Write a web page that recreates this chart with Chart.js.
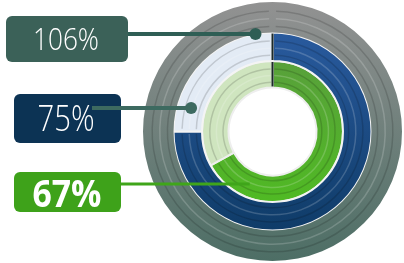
<!DOCTYPE html>
<html>
<head>
<meta charset="utf-8">
<script src="https://cdn.jsdelivr.net/npm/chart.js@4.4.1/dist/chart.umd.min.js"></script>
<style>
  html, body { margin:0; padding:0; background:#fff; }
  #wrap { width:404px; height:263px; position:relative; }
</style>
</head>
<body>
<div id="wrap"><canvas id="rings"></canvas></div>
<script>
// ring data, outer to inner
const ringLabels = ['106%', '75%', '67%'];
const ringValues = [106, 75, 67];
const ringRest = [0, 25, 33];

const boxColors = ['#3b6158', '#0c3354', '#3ea21a'];
const lineColors = ['#2f5e55', '#3d6a60', '#3fa51a'];

function vGrad(chart, top, bottom) {
  const a = chart.chartArea;
  if (!a) return top;
  const g = chart.ctx.createLinearGradient(0, a.top, 0, a.bottom);
  g.addColorStop(0, top);
  g.addColorStop(1, bottom);
  return g;
}

// little grooves inside every arc, to get the embossed look
const grooves = {
  id: 'grooves',
  afterDatasetsDraw(chart) {
    const ctx = chart.ctx;
    chart.data.datasets.forEach((ds, i) => {
      chart.getDatasetMeta(i).data.forEach((arc, j) => {
        const p = arc.getProps(['x', 'y', 'startAngle', 'endAngle', 'innerRadius', 'outerRadius']);
        if (p.endAngle - p.startAngle < 0.01) return;
        const w = p.outerRadius - p.innerRadius;
        ctx.save();
        [0.2, 0.45, 0.7].forEach((f, k) => {
          ctx.beginPath();
          ctx.arc(p.x, p.y, p.innerRadius + w * f, p.startAngle + 0.03, p.endAngle - 0.03);
          ctx.strokeStyle = k % 2 ? 'rgba(255,255,255,0.18)' : 'rgba(0,0,0,0.15)';
          ctx.lineWidth = 1.5;
          ctx.stroke();
        });
        // dark seam where the value arc starts
        if (i > 0 && j === 0) {
          const c = Math.cos(p.startAngle), s = Math.sin(p.startAngle);
          ctx.beginPath();
          ctx.moveTo(p.x + c * (p.innerRadius + 1), p.y + s * (p.innerRadius + 1));
          ctx.lineTo(p.x + c * (p.outerRadius - 1), p.y + s * (p.outerRadius - 1));
          ctx.strokeStyle = '#1c2a2a';
          ctx.lineWidth = 2;
          ctx.stroke();
        }
        ctx.restore();
      });
    });
  }
};

// label boxes and leader lines
const callouts = {
  id: 'callouts',
  afterDraw(chart) {
    const ctx = chart.ctx;
    const boxes = [
      {x: 6, y: 16, w: 122, h: 46, tx: 66, ty: 50, size: 32, weight: '300', fit: 66, ly: 34, lx: 128},
      {x: 14, y: 94, w: 107, h: 49, tx: 66, ty: 131, size: 37, weight: '300', fit: 57, ly: 108, lx: 92},
      {x: 14, y: 172, w: 107, h: 40, tx: 67, ty: 207, size: 37, weight: 'bold', fit: 69, ly: 184, lx: 121}
    ];
    boxes.forEach((b, i) => {
      ctx.save();
      ctx.fillStyle = boxColors[i];
      ctx.beginPath();
      ctx.roundRect(b.x, b.y, b.w, b.h, 6);
      ctx.fill();
      ctx.fillStyle = '#fff';
      ctx.font = b.weight + ' ' + b.size + 'px "Open Sans", sans-serif';
      ctx.textAlign = 'center';
      ctx.textBaseline = 'alphabetic';
      ctx.fillText(ringLabels[i], b.tx, b.ty, b.fit);
      ctx.restore();
    });
    boxes.forEach((b, i) => {
      const arc = chart.getDatasetMeta(i).data[0];
      const p = arc.getProps(['x', 'y', 'innerRadius', 'outerRadius']);
      const r = i === 0 ? p.innerRadius : (p.innerRadius + p.outerRadius) / 2;
      const dy = b.ly - p.y;
      const ex = p.x - Math.sqrt(Math.max(r * r - dy * dy, 0));
      ctx.save();
      ctx.strokeStyle = lineColors[i];
      ctx.lineWidth = i === 2 ? 3 : 4;
      ctx.beginPath();
      ctx.moveTo(b.lx, b.ly);
      ctx.lineTo(ex, b.ly);
      ctx.stroke();
      if (i < 2) {
        ctx.fillStyle = lineColors[i];
        ctx.beginPath();
        ctx.arc(ex, b.ly, 6, 0, Math.PI * 2);
        ctx.fill();
      }
      ctx.restore();
    });
  }
};

new Chart(document.getElementById('rings'), {
  type: 'doughnut',
  data: {
    labels: ['value', 'rest'],
    datasets: [
      {
        data: [ringValues[0], ringRest[0]],
        weight: 30,
        backgroundColor: (c) => vGrad(c.chart, '#929292', '#4d6e65'),
        borderWidth: 0
      },
      {
        data: [ringValues[1], ringRest[1]],
        weight: 28,
        backgroundColor: (c) => c.dataIndex === 0 ? vGrad(c.chart, '#2d5fa6', '#0b3760') : '#e3ebf5',
        borderColor: '#f4f4f4',
        borderWidth: 2
      },
      {
        data: [ringValues[2], ringRest[2]],
        weight: 26,
        backgroundColor: (c) => c.dataIndex === 0 ? vGrad(c.chart, '#5c9644', '#4cc41a') : '#cfe5bf',
        borderColor: '#eeeeee',
        borderWidth: 2
      }
    ]
  },
  options: {
    responsive: true,
    maintainAspectRatio: false,
    animation: false,
    cutout: '34%',
    layout: { padding: { left: 143, right: 2, top: 2, bottom: 2 } },
    plugins: {
      legend: { display: false },
      tooltip: { enabled: false }
    }
  },
  plugins: [grooves, callouts]
});
</script>
</body>
</html>
